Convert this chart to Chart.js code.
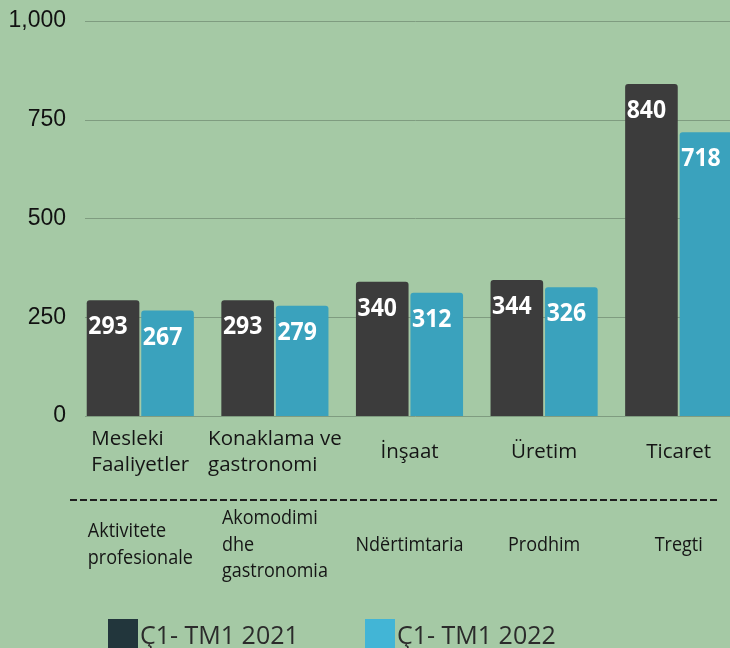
<!DOCTYPE html>
<html>
<head>
<meta charset="utf-8">
<script src="https://cdn.jsdelivr.net/npm/chart.js@4.4.1/dist/chart.umd.min.js"></script>
<style>
  html, body { margin: 0; padding: 0; background: #a5c9a5; width: 730px; height: 648px; overflow: hidden; }
  #wrap { position: relative; width: 730px; height: 648px; overflow: hidden; }
  #wrap canvas { position: absolute; left: 0; top: 0; }
  .lg { position: absolute; top: 619px; display: flex; align-items: flex-start; font-family: 'Open Sans'; font-size: 25px; color: #2b2b2b; line-height: 30px; white-space: pre; }
  .lg i { display: inline-block; width: 30px; height: 30px; margin-right: 2px; }
</style>
</head>
<body>
<div id="wrap">
  <canvas id="chart" width="746" height="648"></canvas>
  <div class="lg" style="left:108px"><i style="background:#22363c"></i><span>Ç1- TM1 2021</span></div>
  <div class="lg" style="left:365px"><i style="background:#42b5d6"></i><span>Ç1- TM1 2022</span></div>
</div>
<script>
const catTr = [['Mesleki', 'Faaliyetler'], ['Konaklama ve', 'gastronomi'], ['İnşaat'], ['Üretim'], ['Ticaret']];
const catSq = [['Aktivitete', 'profesionale'], ['Akomodimi', 'dhe', 'gastronomia'], ['Ndërtimtaria'], ['Prodhim'], ['Tregti']];
const val2021 = [293, 293, 340, 344, 840];
const val2022 = [267, 279, 312, 326, 718];
const yTicks = [0, 250, 500, 750, 1000];

// draw a multi-line label block, lines left-aligned, block centred on cx / cy
function drawBlock(ctx, lines, cx, cy, lh, sx) {
    const w = Math.max(...lines.map(t => ctx.measureText(t).width)) * sx;
    const top = cy - (lines.length - 1) * lh / 2;
    lines.forEach((t, k) => {
        ctx.save();
        ctx.translate(cx - w / 2, top + k * lh);
        ctx.scale(sx, 1);
        ctx.fillText(t, 0, 0);
        ctx.restore();
    });
}

const decor = {
    id: 'decor',
    beforeDatasetsDraw(chart) {
        const { ctx, scales: { y } } = chart;
        ctx.save();
        ctx.strokeStyle = '#7f9c80';
        ctx.lineWidth = 1;
        yTicks.forEach(v => {
            const py = Math.round(y.getPixelForValue(v)) + 0.5;
            ctx.beginPath();
            ctx.moveTo(85, py);
            ctx.lineTo(chart.width, py);
            ctx.stroke();
        });
        ctx.restore();
    },
    afterDatasetsDraw(chart) {
        const { ctx } = chart;
        ctx.save();
        ctx.fillStyle = '#ffffff';
        ctx.font = 'bold 25px "Open Sans"';
        ctx.textAlign = 'center';
        ctx.textBaseline = 'middle';
        chart.data.datasets.forEach((ds, di) => {
            chart.getDatasetMeta(di).data.forEach((bar, i) => {
                ctx.save();
                ctx.translate(bar.x - 5, bar.y + 27);
                ctx.scale(0.92, 1);
                ctx.fillText(ds.data[i], 0, 0);
                ctx.restore();
            });
        });
        ctx.restore();
    },
    afterDraw(chart) {
        const { ctx, scales: { x } } = chart;
        ctx.save();
        ctx.fillStyle = '#151515';
        ctx.textAlign = 'left';
        ctx.textBaseline = 'middle';
        ctx.font = '20.5px "Open Sans"';
        catTr.forEach((lines, i) => drawBlock(ctx, lines, x.getPixelForValue(i), 452, 26, 1));
        ctx.font = '20px "Open Sans"';
        catSq.forEach((lines, i) => drawBlock(ctx, lines, x.getPixelForValue(i), 545, 26.5, 0.9));

        ctx.strokeStyle = '#1e1e1e';
        ctx.lineWidth = 2;
        ctx.setLineDash([7, 3]);
        ctx.beginPath();
        ctx.moveTo(70, 500);
        ctx.lineTo(718, 500);
        ctx.stroke();
        ctx.restore();
    }
};

new Chart(document.getElementById('chart'), {
    type: 'bar',
    data: {
        labels: catTr.map(l => l.join(' ')),
        datasets: [
            { label: 'Ç1- TM1 2021', data: val2021, backgroundColor: '#3c3c3c', borderRadius: { topLeft: 3, topRight: 3 }, borderSkipped: 'bottom' },
            { label: 'Ç1- TM1 2022', data: val2022, backgroundColor: '#3aa2bd', borderRadius: { topLeft: 3, topRight: 3 }, borderSkipped: 'bottom' }
        ]
    },
    options: {
        responsive: false,
        animation: false,
        layout: { padding: { top: 20, bottom: 232, left: 0, right: 0 } },
        datasets: { bar: { categoryPercentage: 0.81, barPercentage: 0.965 } },
        plugins: { legend: { display: false }, tooltip: { enabled: false } },
        scales: {
            x: {
                grid: { display: false },
                border: { display: false },
                ticks: { display: false },
                afterFit: s => { s.height = 0; }
            },
            y: {
                min: 0, max: 1000,
                grid: { display: false, drawTicks: false },
                border: { display: false },
                ticks: {
                    stepSize: 250, padding: 7, color: '#111',
                    font: { family: 'Liberation Sans', size: 23 },
                    callback: v => v.toLocaleString('en-US')
                },
                afterFit: s => { s.width = 73; }
            }
        }
    },
    plugins: [decor]
});
</script>
</body>
</html>
